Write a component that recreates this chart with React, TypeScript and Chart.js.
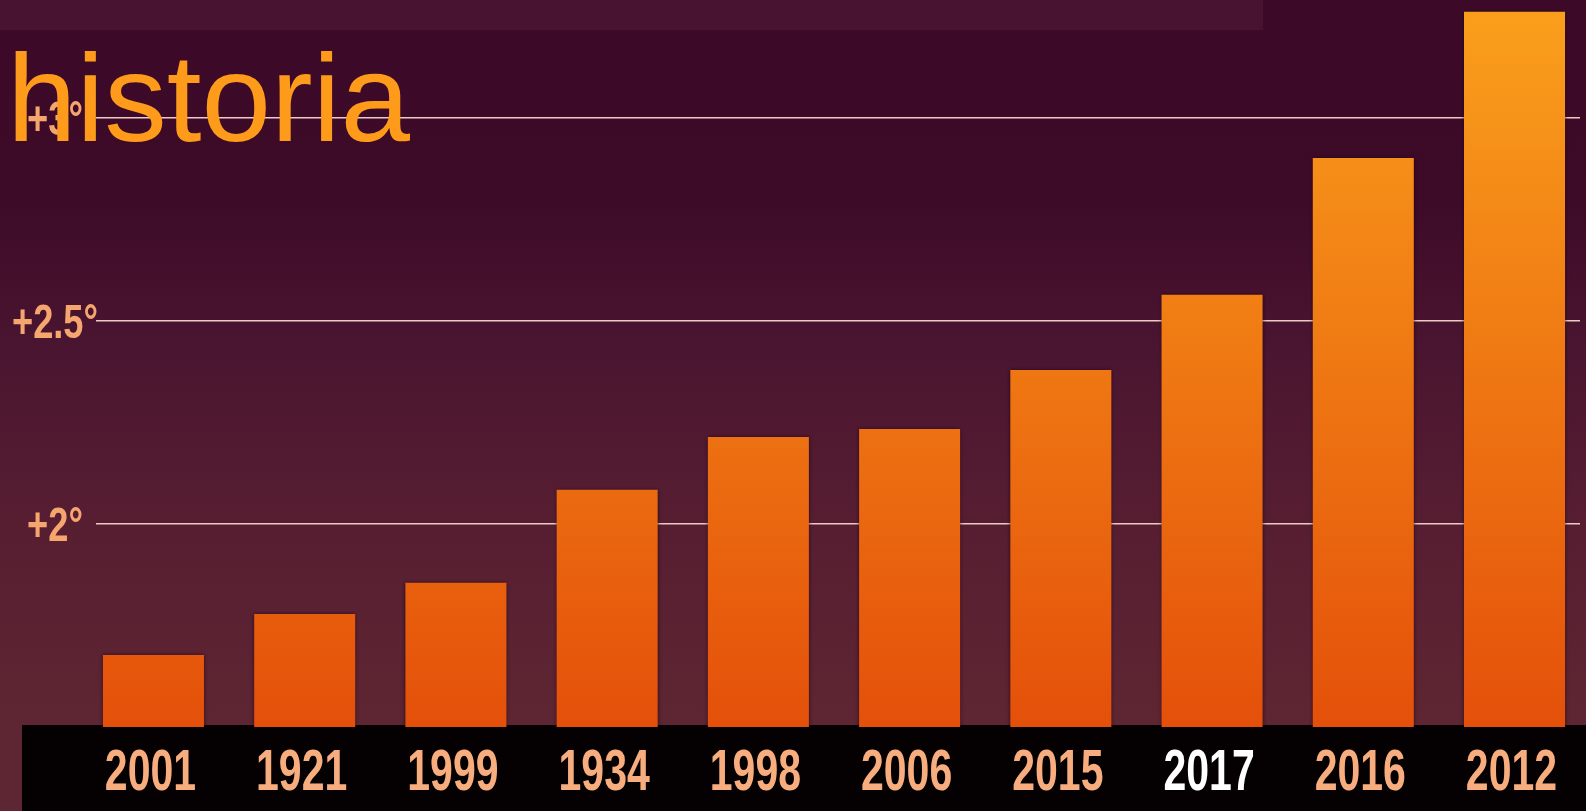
import React, { useEffect, useRef } from 'react';
import { Chart, registerables } from 'chart.js';

Chart.register(...registerables);

// ---- data ----
const years = ['2001', '1921', '1999', '1934', '1998', '2006', '2015', '2017', '2016', '2012'];
const anomalies = [1.677, 1.778, 1.855, 2.084, 2.214, 2.234, 2.379, 2.564, 2.901, 3.261];
const highlightYear = '2017';
const yMin = 1.5;
const yMax = 3.29;
const yStep = 0.5;
const titleText = 'historia';

const xLabelColor = '#f7ad7d';
const yLabelColor = '#f5a56e';
const labelFamily = "'Liberation Sans', Arial, sans-serif";

export default function App() {
  const ref = useRef<HTMLCanvasElement>(null);

  useEffect(() => {
    const canvas = ref.current;
    if (!canvas) return;

    const bgPlugin = {
      id: 'bgPlugin',
      beforeDraw(chart: any) {
        const { ctx, width, height } = chart;
        const g = ctx.createLinearGradient(0, 0, 0, height);
        g.addColorStop(0, '#3c0a28');
        g.addColorStop(0.25, '#3d0a28');
        g.addColorStop(0.43, '#4a1530');
        g.addColorStop(0.62, '#561d32');
        g.addColorStop(0.88, '#5e2532');
        g.addColorStop(1, '#5e2532');
        ctx.save();
        ctx.fillStyle = g;
        ctx.fillRect(0, 0, width, height);
        ctx.fillStyle = '#481330';
        ctx.fillRect(0, 0, 1263, 30);
        ctx.restore();
      },
      beforeDatasetsDraw(chart: any) {
        const { ctx, width, height, chartArea } = chart;
        ctx.save();
        ctx.fillStyle = '#050002';
        ctx.fillRect(22, chartArea.bottom - 2, width - 22, height - chartArea.bottom + 2);
        ctx.restore();
        ctx.save();
        ctx.shadowColor = 'rgba(25,0,15,0.7)';
        ctx.shadowBlur = 4;
      },
      afterDatasetsDraw(chart: any) {
        chart.ctx.restore();
      },
      afterDraw(chart: any) {
        const { ctx } = chart;
        const xs = chart.scales.x;
        const ys = chart.scales.y;
        ctx.save();
        ctx.textAlign = 'center';
        ctx.textBaseline = 'alphabetic';
        // x tick labels (condensed)
        ctx.font = `bold 57px ${labelFamily}`;
        xs.ticks.forEach((t: any, i: number) => {
          if (!t.label) return;
          const px = xs.getPixelForTick(i);
          ctx.save();
          ctx.translate(px - 3, xs.top + 63);
          ctx.scale(0.72, 1);
          ctx.fillStyle = t.label === highlightYear ? '#ffffff' : xLabelColor;
          ctx.fillText(t.label, 0, 0);
          ctx.restore();
        });
        // y tick labels (condensed)
        ctx.font = `bold 49px ${labelFamily}`;
        ys.ticks.forEach((t: any, i: number) => {
          if (!t.label) return;
          const py = ys.getPixelForTick(i);
          ctx.save();
          ctx.translate(ys.right - 41, py + 17);
          ctx.scale(0.74, 1);
          ctx.fillStyle = yLabelColor;
          ctx.fillText(t.label, 0, 0);
          ctx.restore();
        });
        ctx.restore();
      },
    };

    const chart = new Chart(canvas, {
      type: 'bar',
      data: {
        datasets: [
          {
            data: years.map((_, i) => ({ x: i, y: anomalies[i] })),
            backgroundColor: (c: any) => {
              const { ctx, chartArea } = c.chart;
              if (!chartArea) return '#ee6a0c';
              const g = ctx.createLinearGradient(0, chartArea.top, 0, chartArea.bottom);
              g.addColorStop(0, '#faa01c');
              g.addColorStop(1, '#e4500a');
              return g;
            },
            borderWidth: 0,
            barPercentage: 0.668,
            categoryPercentage: 1,
          },
        ],
      },
      options: {
        animation: false,
        responsive: true,
        maintainAspectRatio: false,
        layout: { padding: { left: 0, right: 6, top: 0, bottom: 0 } },
        plugins: {
          legend: { display: false },
          tooltip: { enabled: false },
          title: { display: false },
        },
        scales: {
          x: {
            type: 'linear',
            min: -0.38,
            max: 9.433,
            offset: false,
            grid: { display: false, offset: false },
            border: { display: false },
            afterFit: (s: any) => {
              s.height = 84;
            },
            ticks: {
              display: false,
              stepSize: 1,
              includeBounds: false,
              autoSkip: false,
              maxRotation: 0,
              minRotation: 0,
              callback: (v: any) => years[v] ?? '',
            },
          },
          y: {
            min: yMin,
            max: yMax,
            afterFit: (s: any) => {
              s.width = 96;
            },
            grid: { color: 'rgba(246,214,204,0.95)', lineWidth: 1.5, drawTicks: false },
            border: { display: false },
            ticks: {
              display: false,
              stepSize: yStep,
              includeBounds: false,
              callback: (v: any) => (v < 2 ? null : `+${v}°`),
            },
          },
        },
      },
      plugins: [bgPlugin],
    } as any);

    return () => chart.destroy();
  }, []);

  return (
    <div style={{ position: 'absolute', left: 0, top: 0, width: 1586, height: 811 }}>
      <canvas ref={ref} style={{ display: 'block' }} />
      <div
        style={{
          position: 'absolute',
          left: 7,
          top: 35,
          fontFamily: "'Liberation Sans', Arial, sans-serif",
          fontSize: 125,
          lineHeight: 1,
          color: '#fe9b1a',
          pointerEvents: 'none',
          whiteSpace: 'nowrap',
        }}
      >
        {titleText}
      </div>
    </div>
  );
}
